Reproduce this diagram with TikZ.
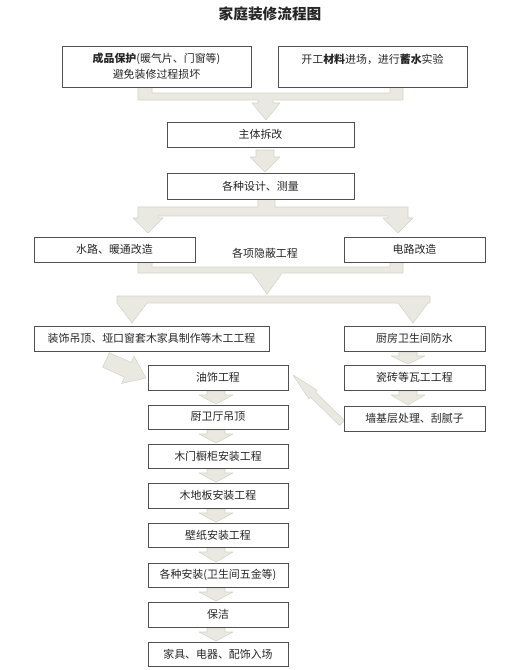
\documentclass[tikz,border=0pt]{standalone}
\usepackage{fontspec}
\setmainfont{Noto Sans CJK SC}
\newfontfamily\cjk{Noto Sans CJK SC}
\definecolor{boxline}{RGB}{80,80,80}
\definecolor{arrfill}{RGB}{233,233,225}
\definecolor{arrline}{RGB}{212,212,202}
\newcommand{\fs}{\fontsize{8.2pt}{12pt}\selectfont}
\newcommand{\mkbox}[6]{\node[box, minimum width={(#4-#2)*0.75pt}, minimum height={(#5-#3)*0.75pt}] (#1) at ({(#2+#4)/2},{(#3+#5)/2}) {#6};}
\newcommand{\sarrow}[3]{\path[blockarrow] (#1-9,#2) -- (#1+9,#2) -- (#1+9,#2+4) -- (#1+17,#2+4) -- (#1,#3) -- (#1-17,#2+4) -- (#1-9,#2+4) -- cycle;}
\begin{document}
\begin{tikzpicture}[x=0.75pt,y=-0.75pt,
  box/.style={draw=boxline, line width=0.7pt, fill=white, inner sep=0pt, font=\cjk\fs, align=center, text=black!85},
  blockarrow/.style={fill=arrfill, draw=arrline, line width=0.4pt, line join=round},
  lbl/.style={font=\cjk\fs, text=black!85, inner sep=0pt}]
\path[use as bounding box, fill=white] (0,0) rectangle (520,670);
% title
\node[font=\cjk\fontsize{11pt}{13pt}\selectfont\bfseries, text=black!85] (title) at (270,14) {家庭装修流程图};
% block arrows (drawn first)
% merge 1
\path[blockarrow] (138,87) -- (152,87) -- (152,93) -- (390,93) -- (390,87) -- (403,87) -- (403,100) -- (273,100) -- (273,103) -- (280,103) -- (266,120) -- (252,103) -- (258,103) -- (258,100) -- (138,100) -- cycle;
% arrow 2
\path[blockarrow] (256,150) -- (274,150) -- (274,157) -- (280,157) -- (265,172) -- (250,157) -- (256,157) -- cycle;
% split 1
\path[blockarrow] (258,199) -- (275,199) -- (275,207) -- (408,207) -- (408,218) -- (413,218) -- (398,233) -- (383,218) -- (388,218) -- (388,216) -- (158,216) -- (158,218) -- (163,218) -- (148,233) -- (133,218) -- (138,218) -- (138,207) -- (258,207) -- cycle;
% merge 2
\path[blockarrow] (138,262) -- (152,262) -- (152,267) -- (390,267) -- (390,262) -- (403,262) -- (403,273) -- (282,273) -- (267,294) -- (252,273) -- (138,273) -- cycle;
% split 2
\path[blockarrow] (117,296) -- (430,296) -- (430,303) -- (428,303) -- (413,323) -- (398,303) -- (147,303) -- (132,323) -- (117,303) -- cycle;
% diagonal wide arrow
\path[blockarrow] (109.3,352.7) -- (131.1,362.5) -- (134.0,356.1) -- (146,378) -- (121.6,383.5) -- (124.5,377.1) -- (102.7,367.3) -- cycle;
% thin diagonal arrow
\path[blockarrow] (293,375) -- (317.2,390.3) -- (315.5,392.1) -- (344.5,420.5) -- (339.5,425.5) -- (310.5,397.1) -- (308.8,398.9) -- cycle;
% right column small arrows
\sarrow{408}{352}{364}
\sarrow{408}{391}{405}
% centre column small arrows
\sarrow{216}{391}{404}
\sarrow{216}{430}{443}
\sarrow{216}{469}{482}
\sarrow{216}{509}{522}
\sarrow{216}{548}{562}
\sarrow{216}{588}{601}
\sarrow{216}{628}{641}
% boxes
\mkbox{b1}{62}{46}{251}{87}{\textbf{成品保护}(暖气片、门窗等)\\避免装修过程损坏}
\mkbox{b2}{278}{46}{467}{87}{开工\textbf{材料}进场，进行\textbf{蓄水}实验\\~}
\mkbox{b3}{167}{122}{354}{147}{主体拆改}
\mkbox{b4}{167}{173}{354}{199}{各种设计、测量}
\mkbox{b5}{34}{237}{195}{262}{水路、暖通改造}
\mkbox{b6}{344}{237}{485}{262}{电路改造}
\node[lbl] (hid) at (265,253) {各项隐蔽工程};
\mkbox{b7}{34}{326}{269}{351}{装饰吊顶、垭口窗套木家具制作等木工工程}
\mkbox{b8}{344}{326}{485}{351}{厨房卫生间防水}
\mkbox{b9}{148}{365}{288}{390}{油饰工程}
\mkbox{b10}{344}{365}{485}{390}{瓷砖等瓦工工程}
\mkbox{b11}{344}{406}{485}{431}{墙基层处理、刮腻子}
\mkbox{b12}{148}{405}{288}{429}{厨卫厅吊顶}
\mkbox{b13}{148}{444}{288}{468}{木门橱柜安装工程}
\mkbox{b14}{148}{483}{288}{508}{木地板安装工程}
\mkbox{b15}{148}{523}{288}{547}{壁纸安装工程}
\mkbox{b16}{148}{563}{288}{587}{各种安装(卫生间五金等)}
\mkbox{b17}{148}{602}{288}{627}{保洁}
\mkbox{b18}{148}{642}{288}{666}{家具、电器、配饰入场}
\end{tikzpicture}
\end{document}
